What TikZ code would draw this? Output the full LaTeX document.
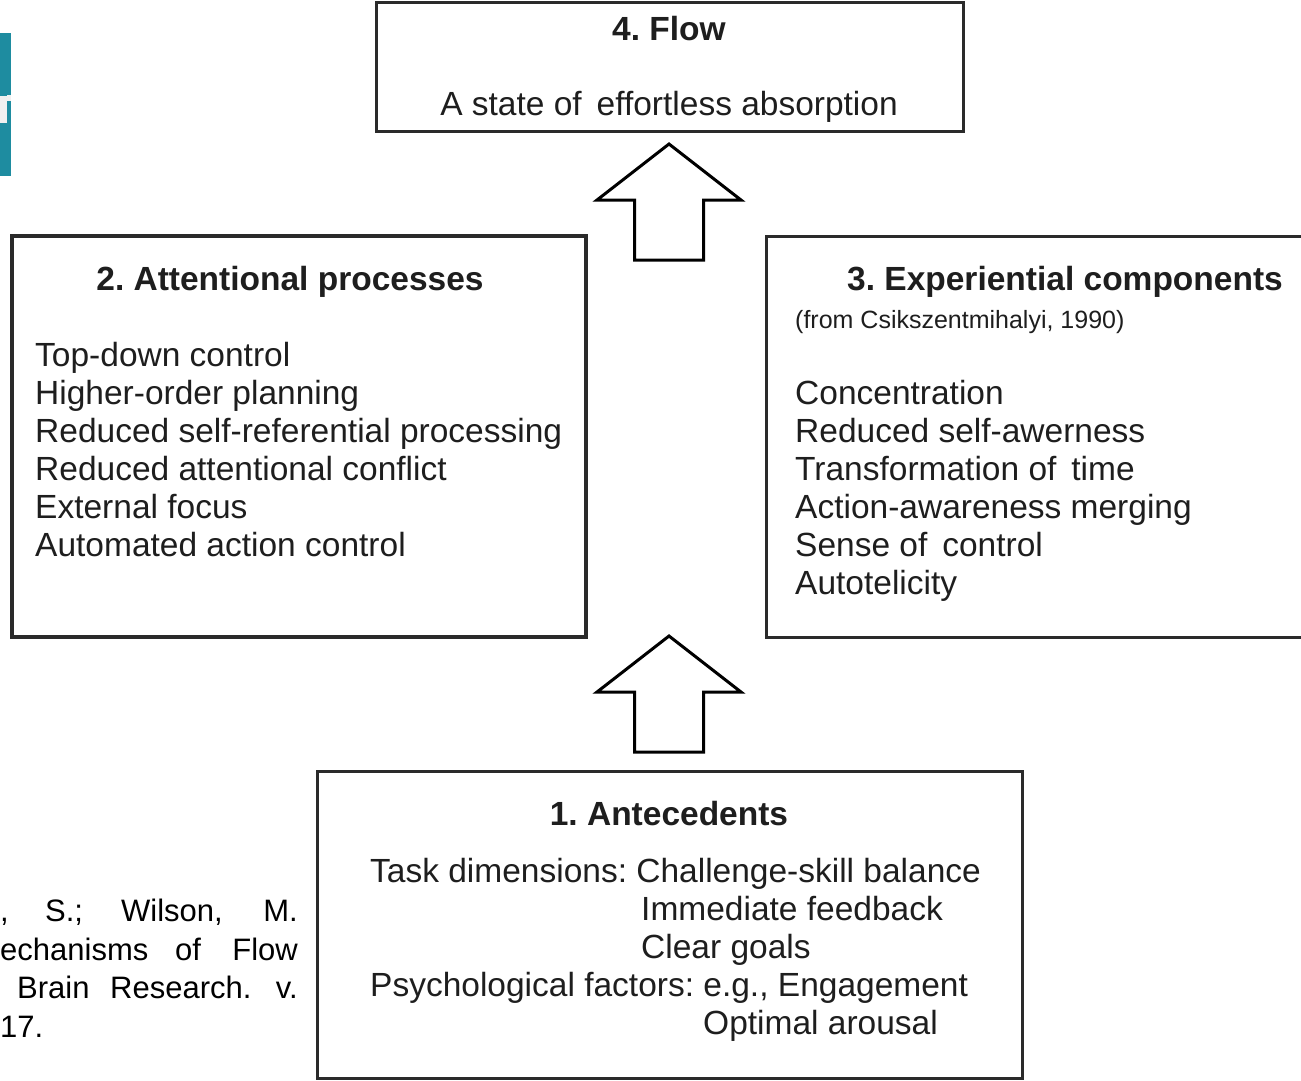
\documentclass[tikz,border=0pt]{standalone}
\usepackage{fontspec}
\setmainfont{Liberation Sans}
\definecolor{ink}{HTML}{1E1E1E}
\definecolor{boxgray}{HTML}{2A2A2A}
\definecolor{tealband}{HTML}{1E8CA0}
\frenchspacing
\begin{document}
\begin{tikzpicture}[x=1pt,y=-1pt,
  box/.style={draw=boxgray, line width=3pt, fill=white, inner sep=0pt},
  txt/.style={anchor=base west, inner sep=0pt, text=ink, font=\fontsize{33.5}{38}\selectfont},
  ttl/.style={anchor=base, inner sep=0pt, text=ink, font=\fontsize{33.5}{38}\selectfont\bfseries},
  note/.style={anchor=base west, inner sep=0pt, text=ink, font=\fontsize{25}{30}\selectfont},
  cite/.style={inner sep=0pt, text=black, font=\fontsize{31}{38}\selectfont},
  blockarrow/.style={draw=black, line width=3pt, fill=white, line join=miter}]
\useasboundingbox (0,0) rectangle (1301,1080);

% edge of the neighbouring page element
\fill[tealband] (0,33) rectangle (11,176);
\fill[white!94!black] (0,96) rectangle (7,123);
\fill[white!94!black] (7,95) rectangle (11,101);

% boxes
\node[box, minimum width=587, minimum height=129] (flow) at (669.5,66.5) {};
\node[box, line width=3.5pt, minimum width=574, minimum height=401] (att) at (299,436.5) {};
\node[box, minimum width=545, minimum height=401] (exp) at (1038.5,436.5) {};
\node[box, minimum width=705, minimum height=307] (ante) at (669.5,924.5) {};

% 4. Flow
\node[ttl] (flowT) at (669,40) {4. Flow};
\node[txt, anchor=base] (flowS) at (669,115) {A state of\, effortless absorption};

% 2. Attentional processes
\node[ttl] (attT) at (290,290) {2. Attentional processes};
\node[txt] (att1) at (35,366) {Top-down control};
\node[txt] (att2) at (35,404) {Higher-order planning};
\node[txt] (att3) at (35,442) {Reduced self-referential processing};
\node[txt] (att4) at (35,480) {Reduced attentional conflict};
\node[txt] (att5) at (35,518) {External focus};
\node[txt] (att6) at (35,556) {Automated action control};

% 3. Experiential components
\node[ttl] (expT) at (1065,290) {3. Experiential components};
\node[note] (expN) at (795,328) {(from Csikszentmihalyi, 1990)};
\node[txt] (exp1) at (795,404) {Concentration};
\node[txt] (exp2) at (795,442) {Reduced self-awerness};
\node[txt] (exp3) at (795,480) {Transformation of\, time};
\node[txt] (exp4) at (795,518) {Action-awareness merging};
\node[txt] (exp5) at (795,556) {Sense of\, control};
\node[txt] (exp6) at (795,594) {Autotelicity};

% 1. Antecedents
\node[ttl] (anteT) at (669,825) {1. Antecedents};
\node[txt] (ante1) at (370,882) {Task dimensions: Challenge-skill balance};
\node[txt] (ante2) at (641,920) {Immediate feedback};
\node[txt] (ante3) at (641,958) {Clear goals};
\node[txt] (ante4) at (370,996) {Psychological factors: e.g., Engagement};
\node[txt] (ante5) at (703,1034) {Optimal arousal};

% block arrows between the stages
\coordinate (tipUpper) at (669,144);
\coordinate (tipLower) at (669,636);
\foreach \t in {tipUpper,tipLower}
  \draw[blockarrow] (\t) -- ++(-72,56) -- ++(37.5,0) -- ++(0,60) -- ++(69,0)
    -- ++(0,-60) -- ++(37.5,0) -- cycle;

% reference text running in from the left
\node[cite, anchor=base west] (c1a) at (0,921) {,};
\node[cite, anchor=base west] (c1b) at (45,921) {S.;};
\node[cite, anchor=base west] (c1c) at (121,921) {Wilson,};
\node[cite, anchor=base east] (c1d) at (298,921) {M.};
\node[cite, anchor=base west] (c2a) at (0,960) {echanisms};
\node[cite, anchor=base west] (c2b) at (175,960) {of};
\node[cite, anchor=base east] (c2c) at (298,960) {Flow};
\node[cite, anchor=base west] (c3a) at (17,998) {Brain};
\node[cite, anchor=base west] (c3b) at (110,998) {Research.};
\node[cite, anchor=base east] (c3c) at (298,998) {v.};
\node[cite, anchor=base west] (c4a) at (0,1037) {17.};
\end{tikzpicture}
\end{document}
